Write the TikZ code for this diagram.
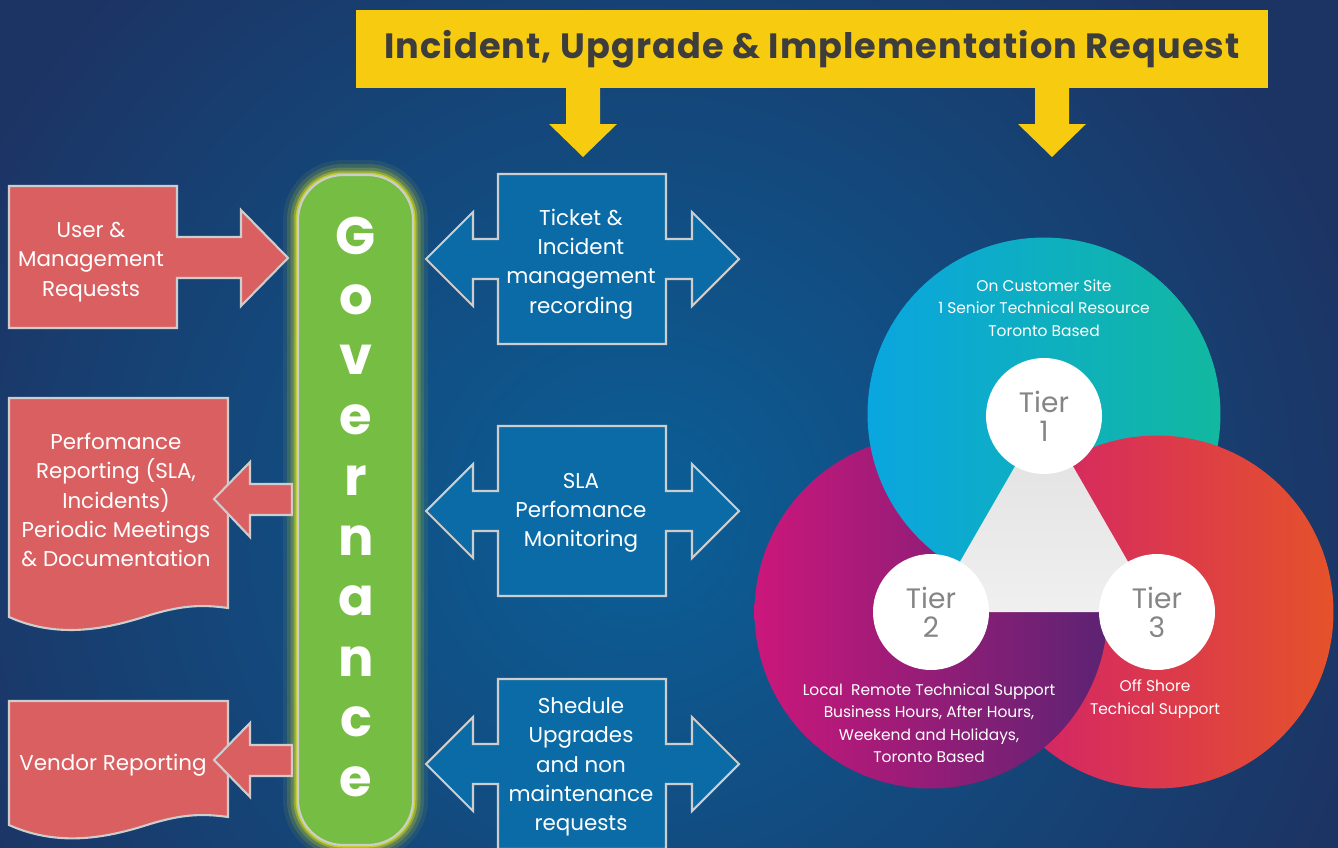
\documentclass[tikz,border=0pt]{standalone}
\usepackage{fontspec}
\setmainfont{Poppins}
\newfontfamily\titlefont[LetterSpace=3]{Poppins}
\usetikzlibrary{positioning}

\definecolor{bgout}{HTML}{1C3464}
\definecolor{bgin}{HTML}{0A5F97}
\definecolor{yellowc}{HTML}{F6CB10}
\definecolor{titlec}{HTML}{3D3D3D}
\definecolor{redc}{HTML}{DA5F61}
\definecolor{bluec}{HTML}{0A6BA6}
\definecolor{greenc}{HTML}{76BD43}
\definecolor{glowc}{HTML}{D6E021}
\definecolor{edgec}{HTML}{CDCDCD}
\definecolor{tiertxt}{HTML}{858585}
\definecolor{cyanl}{HTML}{0AA6E0}
\definecolor{cyanr}{HTML}{12B8A0}
\definecolor{magl}{HTML}{CB177B}
\definecolor{magr}{HTML}{5C2373}
\definecolor{pinkl}{HTML}{D11E70}
\definecolor{pinkr}{HTML}{E5522A}

\tikzset{
	redbox/.style={fill=redc,draw=edgec,line width=1.2pt,line join=miter},
	bluebox/.style={fill=bluec,draw=edgec,line width=1.2pt,line join=miter},
	boxtext/.style={text=white,align=center,font=\fontsize{12.2}{16.6}\selectfont},
	govletter/.style={text=white,font=\fontsize{30}{30}\selectfont\bfseries},
	tier/.style={circle,fill=white,minimum size=2.32cm,inner sep=0pt,text=tiertxt,
		align=center,font=\fontsize{16}{16.5}\selectfont},
	venntext/.style={text=white,align=center,font=\fontsize{8.8}{12.8}\selectfont}
}

\begin{document}
\begin{tikzpicture}[x=0.02cm,y=-0.02cm]
	\useasboundingbox (0,0) rectangle (1338,848);
	\fill[bgout] (0,0) rectangle (1338,848);
	\shade[inner color=bgin,outer color=bgout] (640,520) circle (15cm);

	% request banner
	\node[fill=yellowc,minimum width=18.24cm,minimum height=1.58cm,text=titlec,
		font=\titlefont\fontsize{20}{20}\selectfont\bfseries] (req) at (812,49)
		{Incident, Upgrade \& Implementation Request};
	\foreach \ax in {583,1052}
		\fill[yellowc] (\ax-17,86) -- (\ax+17,86) -- (\ax+17,124) -- (\ax+34,124)
			-- (\ax,157) -- (\ax-34,124) -- (\ax-17,124) -- cycle;

	% governance
	\foreach \w/\o in {6mm/0.08,4.4mm/0.14,3mm/0.22,1.8mm/0.4,1mm/0.7}
		\draw[glowc,opacity=\o,line width=\w,rounded corners=0.9cm] (298,175) rectangle (413,845);
	\node[fill=greenc,draw=edgec,line width=1.2pt,rounded corners=0.9cm,
		minimum width=2.3cm,minimum height=13.4cm] (gov) at (355.5,510) {};
	\foreach \l [count=\i from 0] in {G,o,v,e,r,n,a,n,c,e}
		\node[govletter,anchor=base] (g\i) at (356,254+60.3*\i) {\l};

	% left side
	\draw[redbox] (9,186) -- (177,186) -- (177,237) -- (241,237) -- (241,210) -- (288,258)
		-- (241,306) -- (241,278) -- (177,278) -- (177,328) -- (9,328) -- cycle;
	\node[boxtext] (user) at (91,262) {User \&\\Management\\Requests};

	\draw[redbox] (9,398) -- (228,398) -- (228,608) .. controls (200,604) and (180,606) .. (150,615)
		.. controls (110,628) and (60,640) .. (9,617) -- cycle;
	\draw[redbox] (292,484) -- (250,484) -- (250,462) -- (214,499) -- (250,537) -- (250,515)
		-- (292,515) -- cycle;
	\node[boxtext] (perf) at (116,500) {Perfomance\\Reporting (SLA,\\Incidents)\\Periodic Meetings\\\& Documentation};

	\draw[redbox] (9,701) -- (228,701) -- (228,817) .. controls (200,813) and (180,815) .. (150,824)
		.. controls (110,837) and (60,848) .. (9,825) -- cycle;
	\draw[redbox] (292,745) -- (250,745) -- (250,723) -- (214,760) -- (250,797) -- (250,776)
		-- (292,776) -- cycle;
	\node[boxtext] (vend) at (113,765) {Vendor Reporting};

	% middle
	\foreach \cy in {259,511,764}
		\draw[bluebox] (498,\cy-85) -- (666,\cy-85) -- (666,\cy-20) -- (692,\cy-20) -- (692,\cy-47)
			-- (739,\cy) -- (692,\cy+47) -- (692,\cy+20) -- (666,\cy+20) -- (666,\cy+85)
			-- (498,\cy+85) -- (498,\cy+20) -- (473,\cy+20) -- (473,\cy+47) -- (426,\cy)
			-- (473,\cy-47) -- (473,\cy-20) -- (498,\cy-20) -- cycle;
	\node[boxtext] (tkt) at (581,264) {Ticket \&\\Incident\\management\\recording};
	\node[boxtext] (sla) at (581,513) {SLA\\Perfomance\\Monitoring};
	\node[boxtext] (upg) at (581,767) {Shedule\\Upgrades\\and non\\maintenance\\requests};

	% tiers
	\shade[left color=pinkl,right color=pinkr] (1157,612) circle (3.53cm);
	\shade[left color=magl,right color=magr] (931,612) circle (3.53cm);
	\shade[left color=cyanl,right color=cyanr] (1044,414) circle (3.53cm);
	\begin{scope}
		\clip (1044,414) circle (3.57cm);
		\shade[left color=pinkl,right color=pinkr] (1157,612) circle (3.53cm);
	\end{scope}
	\shade[top color=black!12,bottom color=black!6] (1044,416) -- (931,612) -- (1157,612) -- cycle;

	\node[tier] (t1) at (1044,416) {Tier\\1};
	\node[tier] (t2) at (931,612) {Tier\\2};
	\node[tier] (t3) at (1157,612) {Tier\\3};

	\node[venntext] (site) at (1044,308) {On Customer Site\\1 Senior Technical Resource\\Toronto Based};
	\node[venntext] (local) at (929,723) {Local\ \ Remote Technical Support\\Business Hours, After Hours,\\Weekend and Holidays,\\Toronto Based};
	\node[venntext] (shore) at (1155,699) {Off Shore\\Techical Support};
\end{tikzpicture}
\end{document}
